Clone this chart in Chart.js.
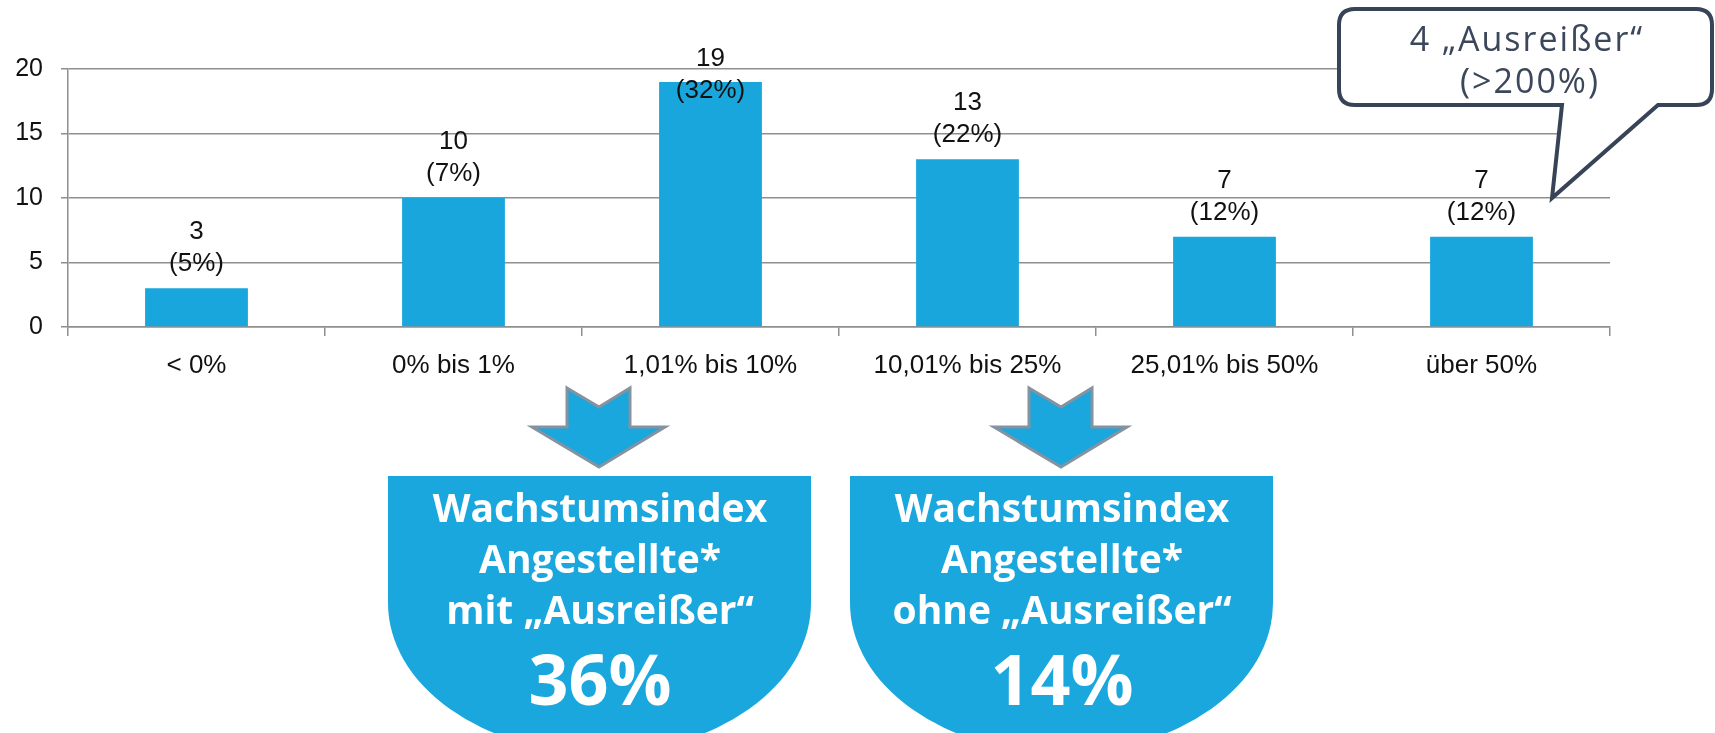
<!DOCTYPE html>
<html lang="de">
<head>
<meta charset="utf-8">
<title>Wachstumsindex Angestellte</title>
<script src="https://cdn.jsdelivr.net/npm/chart.js@4.4.1/dist/chart.umd.min.js"></script>
<style>
  html, body { margin: 0; padding: 0; background: #fff; }
  #wrap { position: relative; width: 1715px; height: 733px; overflow: hidden; }
  #chart { position: absolute; left: 0; top: 0; }
  #deco { position: absolute; left: 0; top: 0; pointer-events: none; }
  .box-txt { font-family: "Open Sans", "Noto Sans", sans-serif; font-weight: 700; fill: #fff; }
  .call-txt { font-family: "Open Sans", "Noto Sans", sans-serif; fill: #3b475a; letter-spacing: 2px; }
</style>
</head>
<body>
<div id="wrap">
  <canvas id="chart" width="1715" height="733"></canvas>
  <svg id="deco" width="1715" height="733" viewBox="0 0 1715 733">
    <!-- callout -->
    <path d="M1355,9 H1696 Q1712,9 1712,25 V89 Q1712,105 1696,105 H1658 L1552,198 L1562,105 H1355 Q1339,105 1339,89 V25 Q1339,9 1355,9 Z"
          fill="#fff" stroke="#374356" stroke-width="4" stroke-linejoin="miter"/>
    <text class="call-txt" x="1527" y="51" font-size="34" text-anchor="middle">4 „Ausreißer“</text>
    <text class="call-txt" x="1530" y="93" font-size="34" text-anchor="middle">(&gt;200%)</text>

    <!-- arrows -->
    <polygon points="567,388 599,407 630,388 630,427 665,427 599,467 532,427 567,427"
             fill="#19a7dd" stroke="#8593a0" stroke-width="3" stroke-linejoin="miter"/>
    <polygon points="1029,388 1061,407 1092,388 1092,427 1127,427 1061,467 994,427 1029,427"
             fill="#19a7dd" stroke="#8593a0" stroke-width="3" stroke-linejoin="miter"/>

    <!-- result boxes -->
    <path d="M388,476 H811 V603 A211.5,150 0 0 1 388,603 Z" fill="#19a7dd"/>
    <path d="M850,476 H1273 V603 A211.5,150 0 0 1 850,603 Z" fill="#19a7dd"/>

    <text class="box-txt" x="600" y="522" font-size="39" text-anchor="middle">Wachstumsindex</text>
    <text class="box-txt" x="600" y="573" font-size="39" text-anchor="middle">Angestellte*</text>
    <text class="box-txt" x="600" y="624" font-size="39" text-anchor="middle">mit „Ausreißer“</text>
    <text class="box-txt" x="600" y="705" font-size="70" text-anchor="middle">36%</text>

    <text class="box-txt" x="1062" y="522" font-size="39" text-anchor="middle">Wachstumsindex</text>
    <text class="box-txt" x="1062" y="573" font-size="39" text-anchor="middle">Angestellte*</text>
    <text class="box-txt" x="1062" y="624" font-size="39" text-anchor="middle">ohne „Ausreißer“</text>
    <text class="box-txt" x="1062" y="705" font-size="70" text-anchor="middle">14%</text>
  </svg>
</div>
<script>
/* Verteilung Wachstumsindex Angestellte */
var categories = ['< 0%', '0% bis 1%', '1,01% bis 10%', '10,01% bis 25%', '25,01% bis 50%', 'über 50%'];
var counts = [3, 10, 19, 13, 7, 7];
var shares = ['(5%)', '(7%)', '(32%)', '(22%)', '(12%)', '(12%)'];
var yMin = 0, yMax = 20, yStep = 5;

var GRID = '#8f8f8f';
var BAR = '#18a6dd';
var FONT = '"Liberation Sans", Arial, Helvetica, sans-serif';

/* two-line value labels above the bars, kept inside the canvas top */
var barLabels = {
  id: 'barLabels',
  afterDatasetsDraw: function (chart) {
    var ctx = chart.ctx;
    var meta = chart.getDatasetMeta(0);
    ctx.save();
    ctx.font = '26px ' + FONT;
    ctx.fillStyle = '#111';
    ctx.textAlign = 'center';
    ctx.textBaseline = 'middle';
    meta.data.forEach(function (bar, i) {
      var y2 = Math.max(bar.y - 24, 91);
      ctx.fillText(String(counts[i]), bar.x, y2 - 32);
      ctx.fillText(shares[i], bar.x, y2);
    });
    ctx.restore();
  }
};

new Chart(document.getElementById('chart'), {
  type: 'bar',
  data: {
    labels: categories,
    datasets: [{
      data: counts,
      backgroundColor: BAR,
      borderWidth: 0,
      barPercentage: 0.4,
      categoryPercentage: 1
    }]
  },
  options: {
    responsive: false,
    animation: false,
    devicePixelRatio: 1,
    layout: { padding: { top: 69, right: 105, left: 0, bottom: 0 } },
    plugins: { legend: { display: false }, tooltip: { enabled: false } },
    scales: {
      x: {
        afterFit: function (s) { s.height = 406; },
        grid: { display: true, drawOnChartArea: false, drawTicks: true, tickLength: 9, color: GRID, lineWidth: 1.5, offset: true },
        border: { display: true, color: GRID, width: 1.5 },
        ticks: { color: '#111', font: { family: FONT, size: 26 }, padding: 14, maxRotation: 0, autoSkip: false }
      },
      y: {
        min: yMin, max: yMax,
        afterFit: function (s) { s.width = 68; },
        grid: { color: GRID, lineWidth: 1.5, drawTicks: true, tickLength: 7 },
        border: { display: true, color: GRID, width: 1.5 },
        ticks: { stepSize: yStep, color: '#111', font: { family: FONT, size: 25 }, padding: 18 }
      }
    }
  },
  plugins: [barLabels]
});
</script>
</body>
</html>
